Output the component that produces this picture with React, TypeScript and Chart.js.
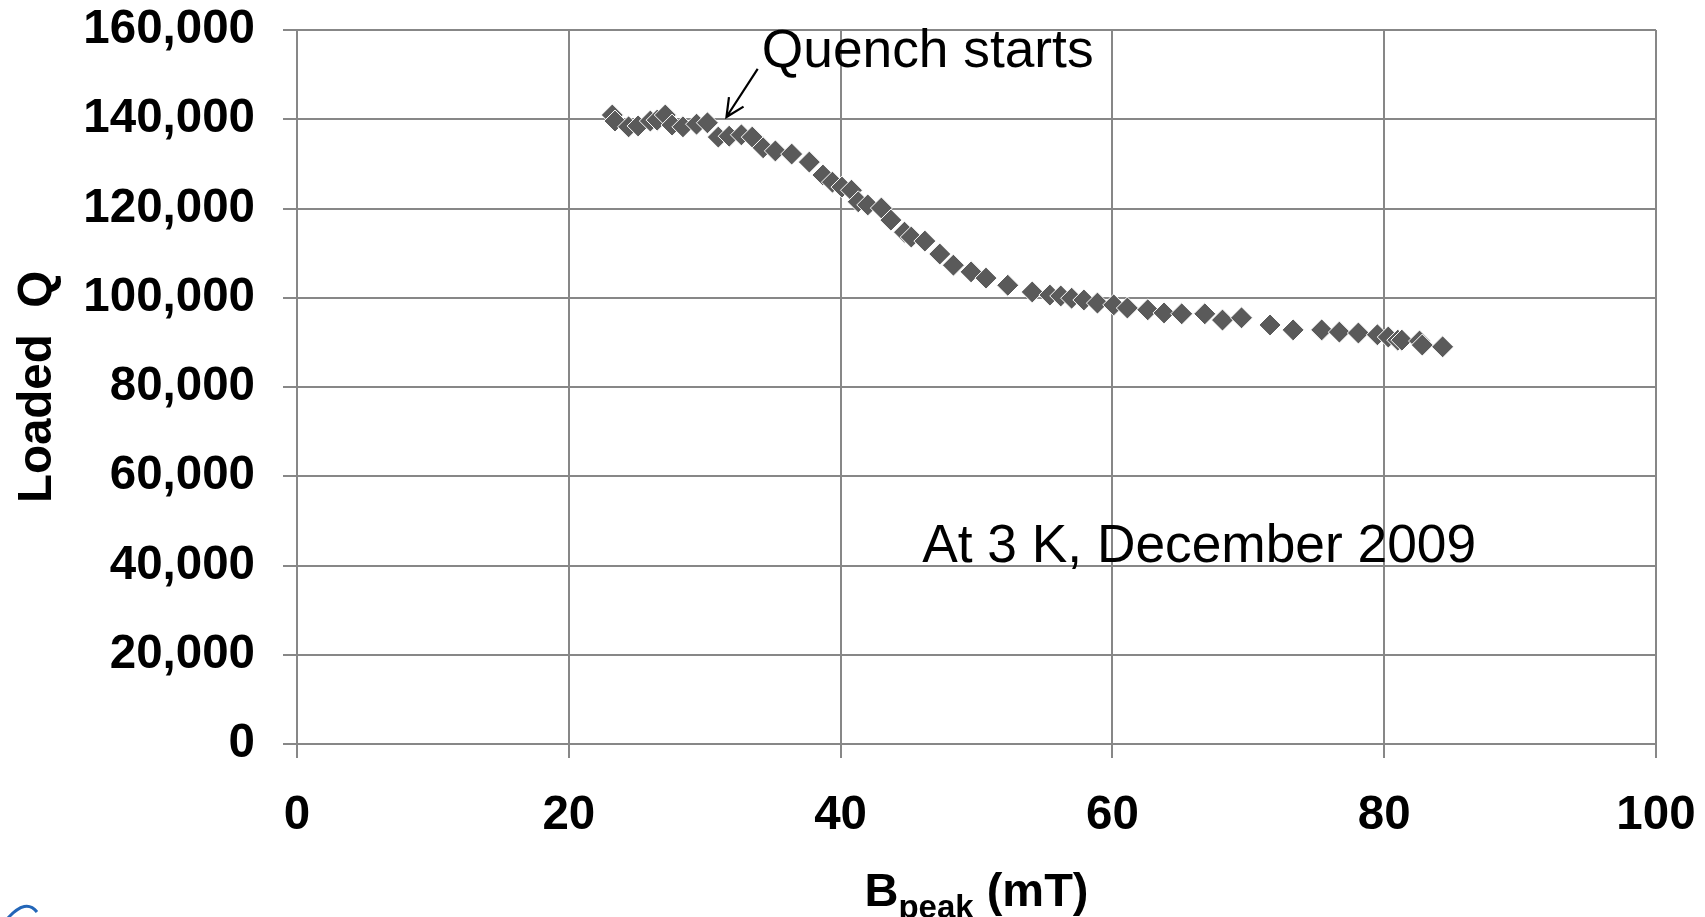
import React, { useEffect, useRef } from 'react';
import { Chart, registerables } from 'chart.js';

Chart.register(...registerables);

// B_peak (mT)
const bPeak = [
  23.2, 23.4, 24.4, 25.1, 26.0, 26.5, 27.1, 27.6, 28.4, 29.4,
  30.2, 31.0, 31.8, 32.7, 33.5, 34.3, 35.2, 36.4, 37.7, 38.7,
  39.4, 40.1, 40.8, 41.3, 42.0, 43.0, 43.7, 44.7, 45.2, 46.2,
  47.3, 48.3, 49.6, 50.7, 52.3, 54.1, 55.4, 56.2, 57.0, 57.9,
  58.9, 60.1, 61.1, 62.6, 63.8, 65.1, 66.8, 68.1, 69.5, 71.6,
  73.3, 75.4, 76.7, 78.1, 79.5, 80.3, 81.0, 81.3, 82.6, 82.8,
  84.3,
];

// Loaded Q
const loadedQ = [
  140950, 139600, 138300, 138500, 139600, 139800, 140950, 138700, 138300, 138900,
  139200, 136000, 136200, 136500, 136000, 133600, 132900, 132200, 130400, 127500,
  125900, 124800, 124100, 121500, 120800, 120100, 117400, 114700, 113600, 112700,
  109800, 107300, 105800, 104400, 102800, 101300, 100600, 100400, 99900, 99500,
  98800, 98400, 97700, 97300, 96600, 96400, 96400, 95000, 95500, 93900,
  92800, 92800, 92300, 92100, 91700, 91200, 90500, 90500, 90300, 89400,
  89000,
];

const xTickValues = [0, 20, 40, 60, 80, 100];
const yTickValues = [0, 20000, 40000, 60000, 80000, 100000, 120000, 140000, 160000];

const yAxisTitle = 'Loaded  Q';
const xTitleMain = 'B';
const xTitleSub = 'peak';
const xTitleTail = ' (mT)';

const quenchLabel = 'Quench starts';
const quenchLabelPos = { x: 34.2, y: 151700 };
const quenchArrowFrom = { x: 33.9, y: 151300 };
const quenchArrowTo = { x: 31.6, y: 140500 };

const conditionLabel = 'At 3 K, December 2009';
const conditionLabelPos = { x: 46.0, y: 40800 };

const FONT = '"Liberation Sans", Arial, Helvetica, sans-serif';
const GRID = '#878787';

function zeroPadding(scale: any) {
  scale.paddingTop = 0;
  scale.paddingBottom = 0;
  scale.paddingLeft = 0;
  scale.paddingRight = 0;
}

export default function App() {
  const canvasRef = useRef<HTMLCanvasElement | null>(null);

  useEffect(() => {
    document.body.style.margin = '0';
    const canvas = canvasRef.current;
    if (!canvas) return;

    const annotations = {
      id: 'annotations',
      afterDatasetsDraw(chart: any) {
        const { ctx, scales } = chart;
        const xs = scales.x;
        const ys = scales.y;
        ctx.save();
        ctx.fillStyle = '#000000';
        ctx.font = `53.3px ${FONT}`;
        ctx.textAlign = 'left';
        ctx.textBaseline = 'alphabetic';
        ctx.fillText(quenchLabel, xs.getPixelForValue(quenchLabelPos.x), ys.getPixelForValue(quenchLabelPos.y));
        ctx.fillText(conditionLabel, xs.getPixelForValue(conditionLabelPos.x), ys.getPixelForValue(conditionLabelPos.y));

        // arrow
        const x1 = xs.getPixelForValue(quenchArrowFrom.x);
        const y1 = ys.getPixelForValue(quenchArrowFrom.y);
        const x2 = xs.getPixelForValue(quenchArrowTo.x);
        const y2 = ys.getPixelForValue(quenchArrowTo.y);
        ctx.strokeStyle = '#000000';
        ctx.lineWidth = 2.2;
        ctx.beginPath();
        ctx.moveTo(x1, y1);
        ctx.lineTo(x2, y2);
        const ang = Math.atan2(y2 - y1, x2 - x1);
        const len = 20;
        const spread = Math.PI / 7;
        ctx.moveTo(x2 - len * Math.cos(ang - spread), y2 - len * Math.sin(ang - spread));
        ctx.lineTo(x2, y2);
        ctx.lineTo(x2 - len * Math.cos(ang + spread), y2 - len * Math.sin(ang + spread));
        ctx.stroke();
        ctx.restore();
      },
      afterDraw(chart: any) {
        const { ctx, chartArea } = chart;
        ctx.save();
        ctx.fillStyle = '#000000';
        ctx.textBaseline = 'alphabetic';
        ctx.textAlign = 'left';
        const mainFont = `bold 47px ${FONT}`;
        const subFont = `bold 33px ${FONT}`;
        ctx.font = mainFont;
        const wB = ctx.measureText(xTitleMain).width;
        const wT = ctx.measureText(xTitleTail).width;
        ctx.font = subFont;
        const wS = ctx.measureText(xTitleSub).width;
        const total = wB + wS + wT;
        const cx = (chartArea.left + chartArea.right) / 2;
        let x = cx - total / 2;
        const base = 906;
        ctx.font = mainFont;
        ctx.fillText(xTitleMain, x, base);
        x += wB;
        ctx.font = subFont;
        ctx.fillText(xTitleSub, x, base + 12);
        x += wS;
        ctx.font = mainFont;
        ctx.fillText(xTitleTail, x, base);

        // partial logo arc at the bottom-left corner
        ctx.strokeStyle = '#2366b8';
        ctx.lineWidth = 3;
        ctx.beginPath();
        ctx.moveTo(8, 918);
        ctx.quadraticCurveTo(26, 898, 37, 912);
        ctx.stroke();
        ctx.restore();
      },
    };

    const chart = new Chart(canvas, {
      type: 'scatter',
      data: {
        datasets: [
          {
            label: 'Loaded Q',
            data: bPeak.map((b, i) => ({ x: b, y: loadedQ[i] })),
            pointStyle: 'rectRot',
            pointRadius: 11,
            pointHoverRadius: 11,
            backgroundColor: '#5a5a5a',
            borderColor: '#ffffff',
            borderWidth: 1,
            showLine: false,
          },
        ],
      },
      options: {
        responsive: false,
        animation: false,
        events: [],
        layout: { padding: { left: 0, right: 49, top: 30, bottom: 0 } },
        plugins: {
          legend: { display: false },
          tooltip: { enabled: false },
          title: { display: false },
        },
        scales: {
          x: {
            type: 'linear',
            min: 0,
            max: 100,
            afterBuildTicks: (scale: any) => {
              scale.ticks = xTickValues.map((v) => ({ value: v }));
            },
            afterFit: (scale: any) => {
              scale.height = 173;
              zeroPadding(scale);
            },
            ticks: {
              color: '#000000',
              font: { family: FONT, size: 47.5, weight: 'bold' },
              padding: 29,
              maxRotation: 0,
              autoSkip: false,
              callback: (v: any) => String(v),
            },
            grid: { color: GRID, lineWidth: 2, tickLength: 14, drawTicks: true },
            border: { display: true, color: GRID, width: 2 },
            title: { display: false },
          },
          y: {
            type: 'linear',
            min: 0,
            max: 160000,
            afterBuildTicks: (scale: any) => {
              scale.ticks = yTickValues.map((v) => ({ value: v }));
            },
            afterFit: (scale: any) => {
              scale.width = 297;
              zeroPadding(scale);
            },
            ticks: {
              color: '#000000',
              font: { family: FONT, size: 47.5, weight: 'bold' },
              padding: 28,
              autoSkip: false,
              callback: (v: any) => Number(v).toLocaleString('en-US'),
            },
            grid: { color: GRID, lineWidth: 2, tickLength: 14, drawTicks: true },
            border: { display: true, color: GRID, width: 2 },
            title: {
              display: true,
              text: yAxisTitle,
              color: '#000000',
              font: { family: FONT, size: 47.5, weight: 'bold' },
              padding: { top: 9, bottom: 0 },
            },
          },
        },
      },
      plugins: [annotations],
    });

    return () => {
      chart.destroy();
    };
  }, []);

  return (
    <div style={{ width: 1705, height: 917, background: '#ffffff' }}>
      <canvas ref={canvasRef} width={1705} height={917} style={{ display: 'block' }} />
    </div>
  );
}
